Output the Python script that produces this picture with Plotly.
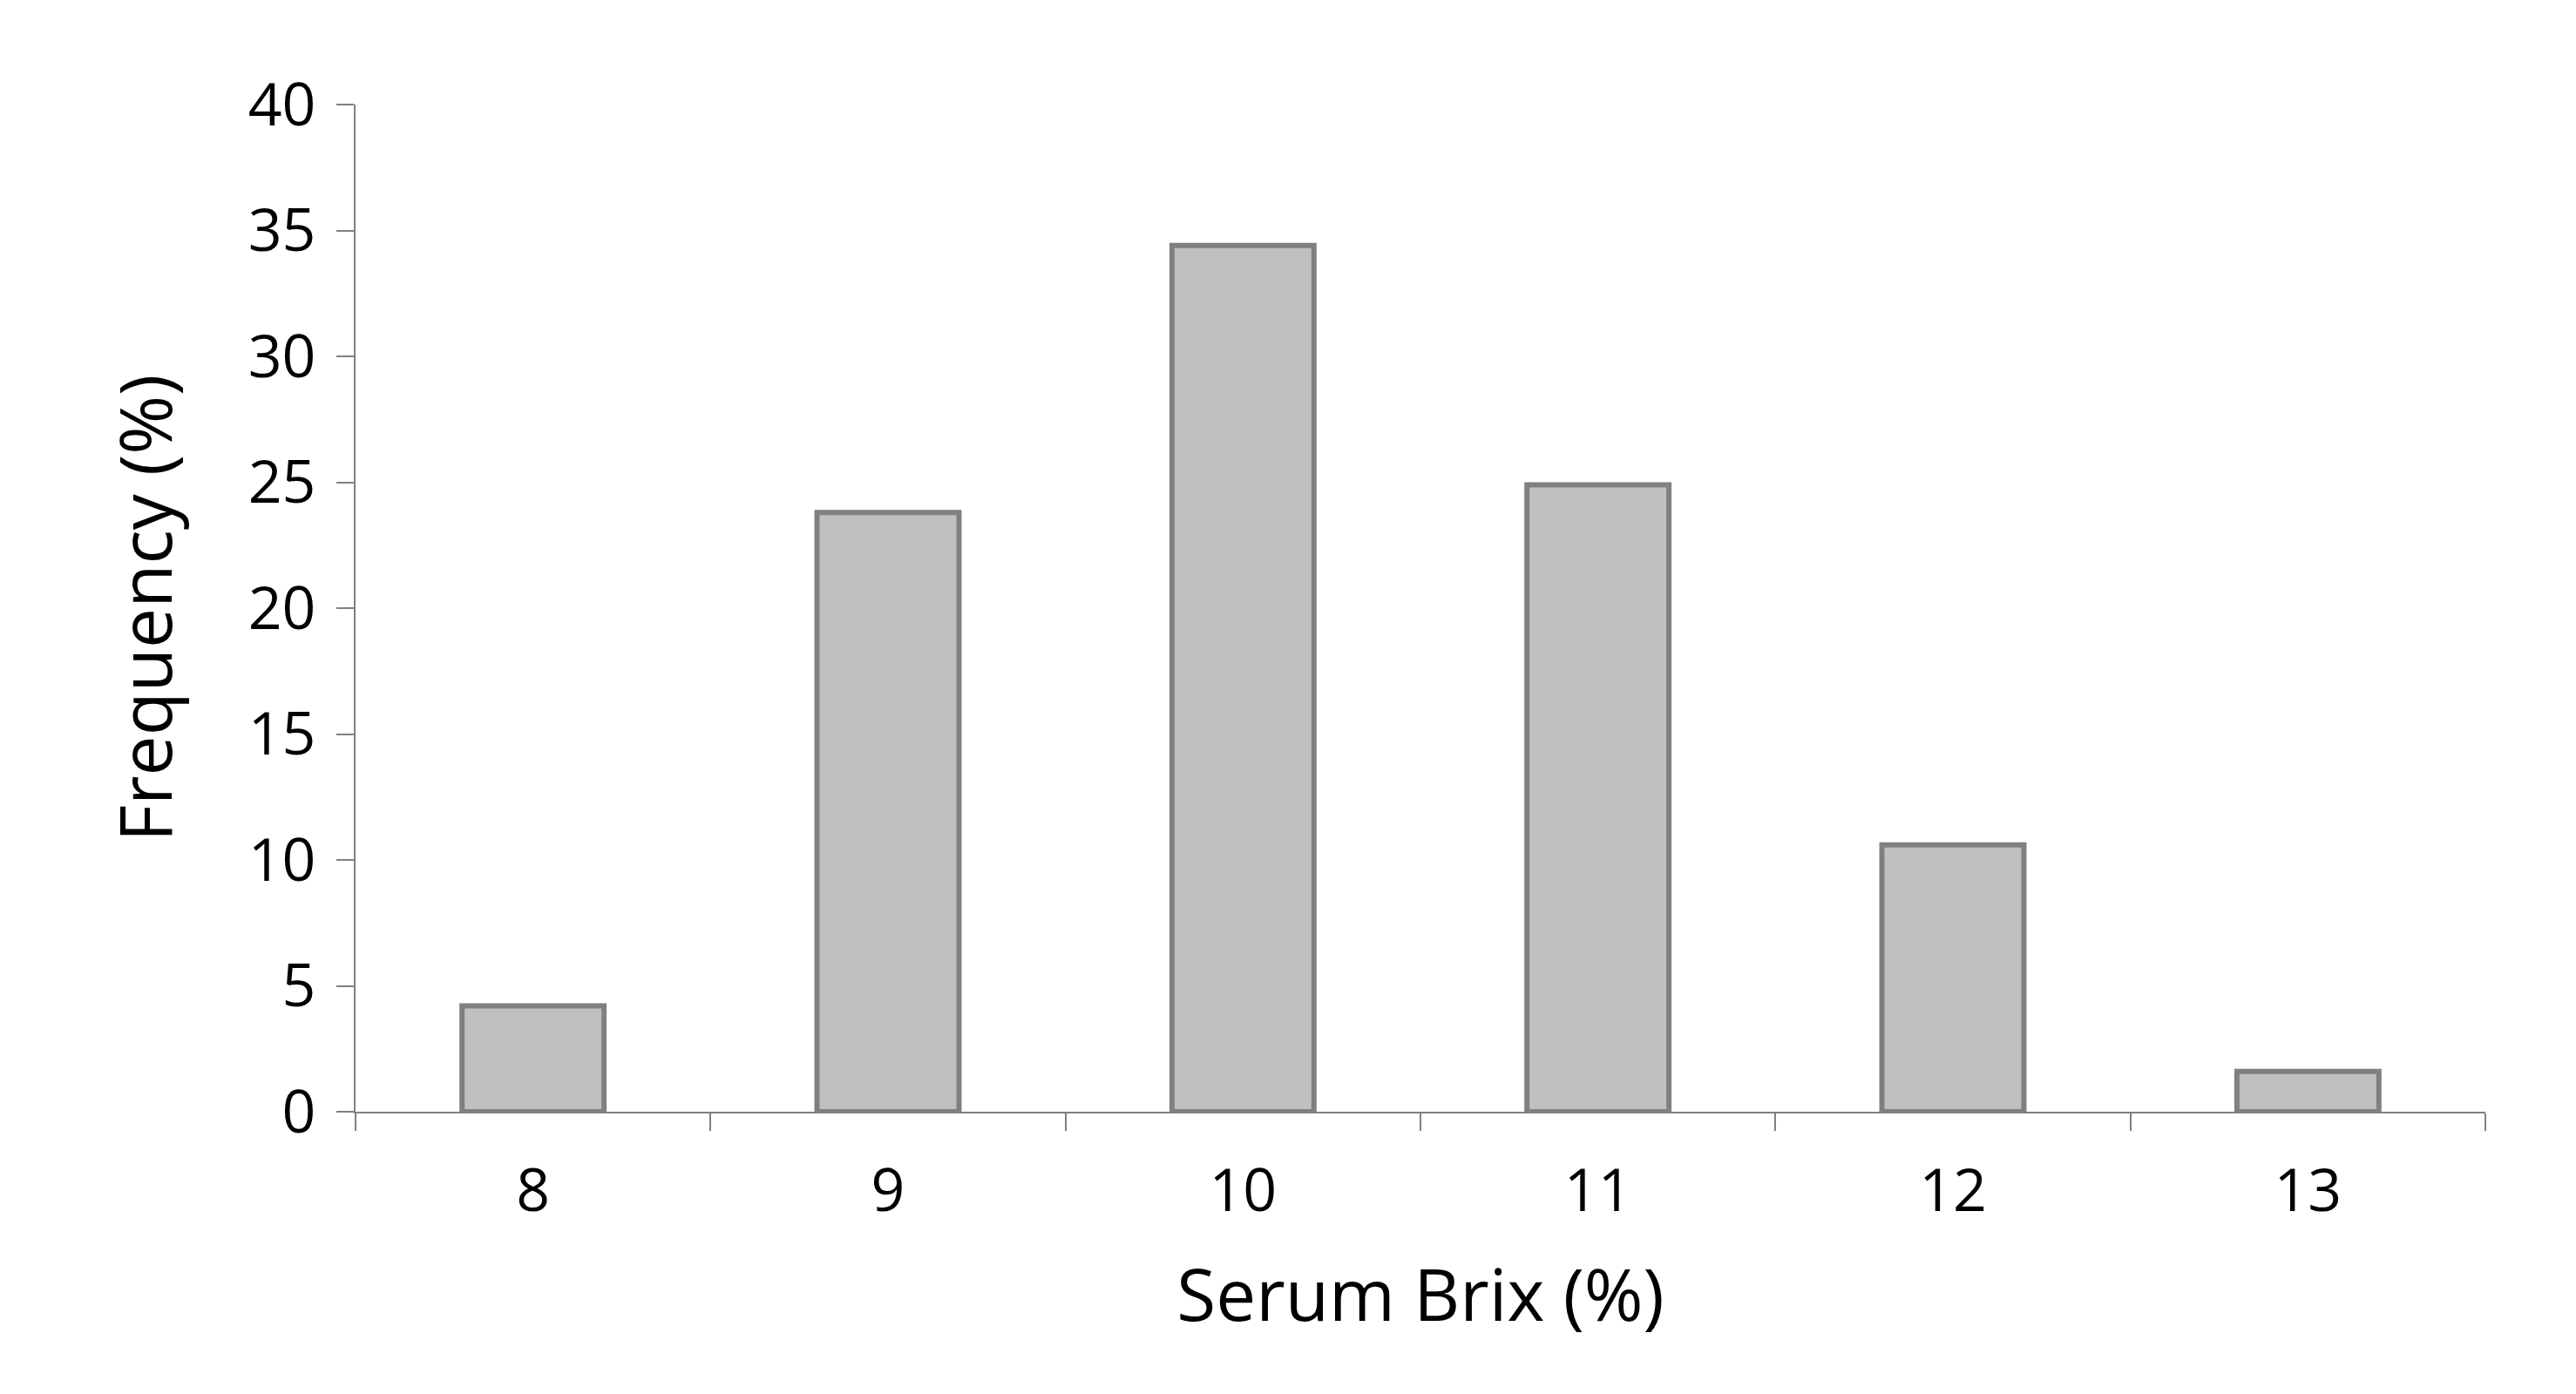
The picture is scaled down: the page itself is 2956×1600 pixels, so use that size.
import plotly.graph_objects as go

categories = ["8", "9", "10", "11", "12", "13"]
frequency = [4.2, 23.8, 34.4, 24.9, 10.6, 1.6]

fig = go.Figure(go.Bar(x=categories, y=frequency, width=0.4,
                       marker=dict(color="#c0c0c0", line=dict(color="#808080", width=6))))
axis_common = dict(showline=True, linecolor="#808080", linewidth=2, ticks="outside",
                   tickcolor="#808080", tickwidth=2, ticklen=20,
                   tickfont=dict(size=68, color="black"), showgrid=False, zeroline=False)
fig.update_xaxes(**axis_common, type="category", tickson="boundaries", ticklabelstandoff=30,
                 title=dict(text="Serum Brix (%)", font=dict(size=82, color="black"), standoff=50))
fig.update_yaxes(**axis_common, range=[0, 40], dtick=5, ticklabelstandoff=10,
                 title=dict(text="Frequency (%)", font=dict(size=82, color="black"), standoff=60))
fig.update_layout(width=2956, height=1600, plot_bgcolor="white", paper_bgcolor="white",
                  font=dict(family="Open Sans"), showlegend=False,
                  margin=dict(l=400, r=112, t=112, b=332))
fig.write_html("out.html")
